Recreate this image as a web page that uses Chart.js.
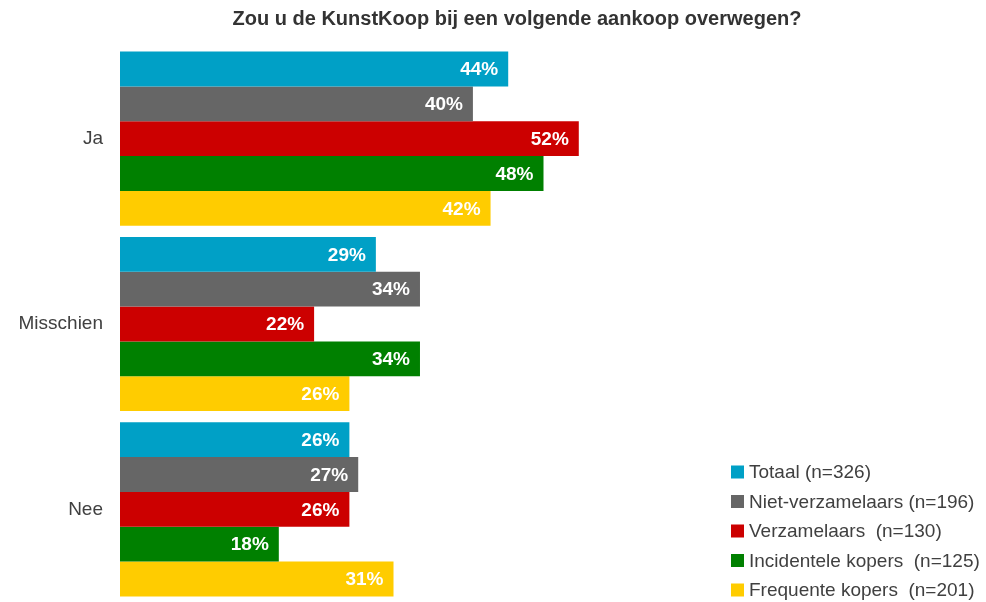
<!DOCTYPE html>
<html>
<head>
<meta charset="utf-8">
<script src="https://cdn.jsdelivr.net/npm/chart.js@4/dist/chart.umd.min.js"></script>
<style>
  html, body { margin: 0; padding: 0; background: #fff; }
</style>
</head>
<body>
<canvas id="chart" width="986" height="602"></canvas>
<script>
const categories = ['Ja', 'Misschien', 'Nee']
const seriesLabels = [
  'Totaal (n=326)',
  'Niet-verzamelaars (n=196)',
  'Verzamelaars  (n=130)',
  'Incidentele kopers  (n=125)',
  'Frequente kopers  (n=201)',
]
const totaal = [44, 29, 26]
const nietVerzamelaars = [40, 34, 27]
const verzamelaars = [52, 22, 26]
const incidenteleKopers = [48, 34, 18]
const frequenteKopers = [42, 26, 31]
const colors = ['#00A0C6', '#666666', '#CC0000', '#008000', '#FFCC00']
const title = 'Zou u de KunstKoop bij een volgende aankoop overwegen?'

const FONT = "'Liberation Sans', Arial, sans-serif"

// labels in the bars, title and legend
const extras = {
  id: 'extras',
  afterDatasetsDraw(chart) {
    const ctx = chart.ctx
    ctx.save()
    ctx.font = `bold 19px ${FONT}`
    ctx.fillStyle = '#ffffff'
    ctx.textAlign = 'right'
    ctx.textBaseline = 'middle'
    chart.data.datasets.forEach((ds, i) => {
      chart.getDatasetMeta(i).data.forEach((bar, j) => {
        ctx.fillText(`${ds.data[j]}%`, bar.x - 10, bar.y + 1)
      })
    })

    ctx.font = `bold 20px ${FONT}`
    ctx.fillStyle = '#333333'
    ctx.textAlign = 'center'
    ctx.fillText(title, 517, 19)

    ctx.font = `19px ${FONT}`
    ctx.textAlign = 'left'
    chart.data.datasets.forEach((ds, i) => {
      const y = 472 + i * 29.5
      ctx.fillStyle = ds.backgroundColor
      ctx.fillRect(731, y - 6.5, 13, 13)
      ctx.fillStyle = '#404040'
      ctx.fillText(ds.label, 749, y + 1)
    })
    ctx.restore()
  },
}

const seriesData = [totaal, nietVerzamelaars, verzamelaars, incidenteleKopers, frequenteKopers]

new Chart(document.getElementById('chart').getContext('2d'), {
  type: 'bar',
  data: {
    labels: categories,
    datasets: seriesData.map((d, i) => ({
      label: seriesLabels[i],
      data: d,
      backgroundColor: colors[i],
      borderWidth: 0,
      barPercentage: 1,
      categoryPercentage: 0.94,
    })),
  },
  options: {
    indexAxis: 'y',
    responsive: false,
    animation: false,
    layout: {
      padding: { top: 46, right: 19, bottom: 0, left: 0 },
    },
    scales: {
      x: {
        display: false,
        min: 0,
        max: 96,
      },
      y: {
        afterFit: (scale) => {
          scale.width = 120
          scale.paddingTop = 0
          scale.paddingBottom = 0
        },
        grid: { display: false },
        border: { display: false },
        ticks: {
          padding: 9,
          color: '#404040',
          font: { family: FONT, size: 19 },
        },
      },
    },
    plugins: {
      legend: { display: false },
      tooltip: { enabled: false },
      title: { display: false },
    },
  },
  plugins: [extras],
})
</script>
</body>
</html>
